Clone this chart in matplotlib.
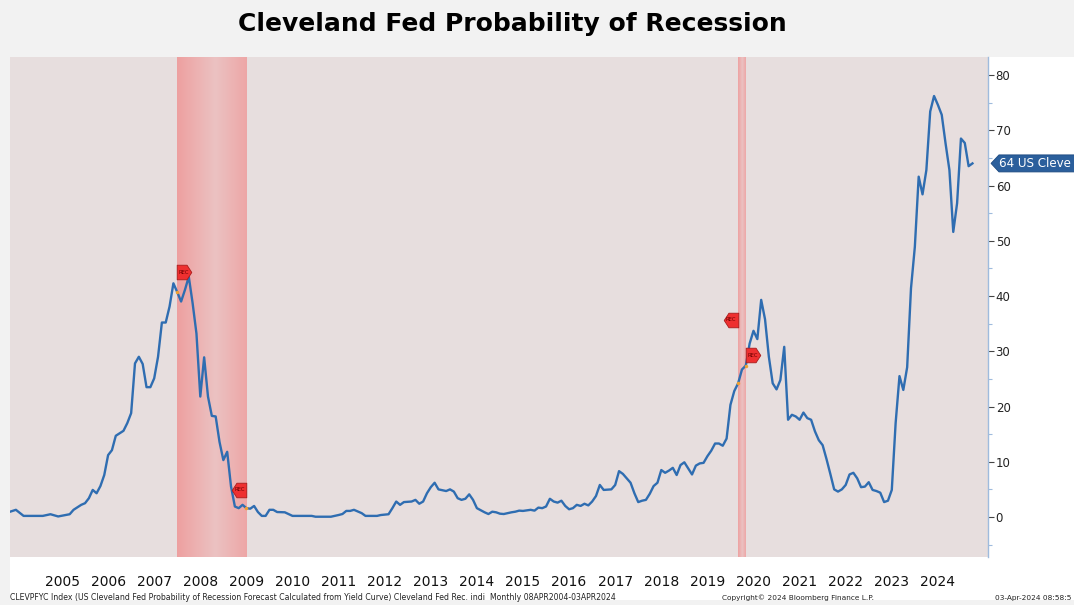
import numpy as np
import matplotlib
matplotlib.use("Agg")
import matplotlib.pyplot as plt
import matplotlib.transforms as mtransforms
from matplotlib.path import Path
from matplotlib.patches import Polygon, Rectangle

# Cleveland Fed probability of recession (%), months counted from Jan 2004
months = [4, 6, 8, 13, 15, 17, 20, 21, 23, 24,
          25, 26, 27, 28, 29, 30, 31, 32, 34, 35,
          36, 37, 38, 39, 40, 41, 42, 43, 44, 45,
          46, 47, 48, 49, 50, 51, 52, 53, 54, 55,
          56, 57, 58, 59, 60, 61, 62, 63, 64, 65,
          66, 67, 68, 69, 70, 71, 72, 73, 74, 76,
          78, 83, 84, 88, 90, 91, 92, 93, 94, 96,
          97, 100, 101, 103, 104, 105, 106, 107, 109, 110,
          111, 112, 113, 114, 115, 116, 118, 119, 120, 121,
          122, 123, 124, 125, 126, 128, 129, 130, 131, 132,
          133, 135, 136, 137, 138, 140, 141, 142, 143, 144,
          145, 146, 147, 148, 149, 150, 151, 152, 153, 154,
          155, 156, 157, 158, 159, 161, 162, 163, 164, 166,
          167, 168, 169, 170, 171, 172, 173, 174, 175, 176,
          177, 178, 179, 180, 181, 182, 183, 184, 185, 186,
          187, 188, 189, 190, 191, 192, 193, 194, 195, 196,
          197, 198, 199, 200, 201, 202, 203, 204, 205, 206,
          207, 208, 209, 210, 211, 212, 213, 214, 215, 216,
          217, 218, 219, 220, 221, 222, 223, 224, 225, 226,
          227, 228, 229, 230, 231, 232, 233, 234, 235, 236,
          237, 238, 239, 240, 241, 242, 243, 244, 245, 246,
          247, 248, 249, 250, 251, 252, 253, 254, 255]
prob = [0.85, 1.3, 0.2, 0.2, 0.5, 0.1, 0.5, 1.3, 2.2, 2.5,
        3.4, 4.9, 4.3, 5.6, 7.6, 11.2, 12.1, 14.7, 15.6, 17.0,
        18.8, 27.8, 29.0, 27.7, 23.5, 23.5, 25.1, 29.0, 35.2, 35.2,
        38.1, 42.3, 40.7, 39.0, 41.1, 43.5, 38.7, 33.2, 21.8, 28.9,
        21.8, 18.3, 18.2, 13.6, 10.3, 11.8, 5.5, 1.9, 1.6, 2.2,
        1.6, 1.5, 2.0, 0.9, 0.2, 0.2, 1.3, 1.3, 0.9, 0.85,
        0.2, 0.2, 0.05, 0.05, 0.36, 0.54, 1.1, 1.1, 1.3, 0.7,
        0.2, 0.2, 0.36, 0.5, 1.6, 2.8, 2.2, 2.7, 2.8, 3.1,
        2.4, 2.8, 4.3, 5.4, 6.2, 5.0, 4.7, 5.0, 4.6, 3.4,
        3.1, 3.3, 4.1, 3.1, 1.6, 0.85, 0.54, 0.96, 0.85, 0.6,
        0.54, 0.85, 0.96, 1.15, 1.1, 1.3, 1.15, 1.7, 1.6, 1.9,
        3.3, 2.8, 2.6, 2.95, 2.0, 1.4, 1.6, 2.2, 2.0, 2.4,
        2.1, 2.8, 3.8, 5.8, 4.9, 5.0, 5.8, 8.3, 7.8, 6.2,
        4.3, 2.7, 2.95, 3.1, 4.2, 5.6, 6.2, 8.5, 8.0, 8.4,
        8.9, 7.6, 9.4, 9.9, 8.8, 7.7, 9.3, 9.7, 9.8, 11.0,
        12.0, 13.3, 13.3, 12.9, 14.2, 20.3, 22.8, 24.2, 26.7, 27.4,
        31.4, 33.7, 32.2, 39.3, 35.8, 29.0, 24.2, 23.1, 24.8, 30.8,
        17.6, 18.5, 18.2, 17.6, 18.9, 17.9, 17.6, 15.5, 13.9, 13.0,
        10.5, 7.8, 5.0, 4.6, 5.0, 5.8, 7.7, 8.0, 7.0, 5.4,
        5.5, 6.3, 4.9, 4.7, 4.4, 2.7, 2.95, 4.9, 17.0, 25.5,
        23.0, 27.1, 41.4, 48.9, 61.6, 58.4, 62.8, 73.4, 76.2, 74.6,
        72.8, 67.6, 62.8, 51.6, 56.8, 68.5, 67.7, 63.5, 64.0]

year_labels = [str(y) for y in range(2005, 2025)]

# NBER recessions (month index of first and first-after months)
rec_start = [48, 194]
rec_end = [66, 196]

# REC flags
flag_month = [48, 66, 194, 196]
flag_value = [44.3, 4.9, 35.7, 29.3]
flag_dir = ["right", "left", "left", "right"]


def to_year(m):
    return 2004 + np.asarray(m, dtype=float) / 12.0


W, H = 1074, 605
fig = plt.figure(figsize=(W / 100, H / 100), dpi=100, facecolor="#f2f2f2")
fig.patches.append(Rectangle((10 / W, 5 / H), 1, (600 - 57) / H,
                             transform=fig.transFigure, facecolor="white",
                             edgecolor="none", zorder=-5))

ax = fig.add_axes([10 / W, 48 / H, 978 / W, 500 / H])
ax.set_facecolor("#e7dede")
xmin, xmax = 2004.372, 2025.587
ymin, ymax = -7.24, 83.26

# recession bands with a soft gradient
edge = np.array([238, 160, 160]) / 255
mid = np.array([235, 194, 194]) / 255
u = np.linspace(0, 1, 200)
w = np.clip(1 - np.abs(u - 0.55) / 0.55, 0, 1)
grad = (edge[None, :] + (mid - edge)[None, :] * w[:, None])[None, :, :]
for s, e in zip(rec_start, rec_end):
    ax.imshow(grad, extent=[to_year(s), to_year(e), ymin, ymax],
              aspect="auto", zorder=1, interpolation="bilinear")

ax.plot(to_year(months), prob, color="#2f6db1", lw=1.7, zorder=3,
        solid_joinstyle="round")

# orange points where the line meets recession boundaries
lookup = dict(zip(months, prob))
bm = rec_start + rec_end
ax.plot(to_year(bm), [lookup[m] for m in bm], "o", color="#f0a030",
        ms=2.5, mec="none", zorder=4)

# REC flags
right_flag = Path([(-1, -1), (0.35, -1), (1, 0), (0.35, 1), (-1, 1), (-1, -1)],
                  [Path.MOVETO] + [Path.LINETO] * 4 + [Path.CLOSEPOLY])
left_flag = Path([(1, -1), (-0.35, -1), (-1, 0), (-0.35, 1), (1, 1), (1, -1)],
                 [Path.MOVETO] + [Path.LINETO] * 4 + [Path.CLOSEPOLY])
for m, v, d in zip(flag_month, flag_value, flag_dir):
    dx = 0.07 if d == "right" else -0.07
    tr = ax.transData + mtransforms.ScaledTranslation(dx, 0, fig.dpi_scale_trans)
    ax.plot([to_year(m)], [v], marker=right_flag if d == "right" else left_flag,
            ms=10.5, color="#ee3030", mec="#a81c1c", mew=0.6, transform=tr,
            zorder=5, clip_on=False)
    ax.text(to_year(m), v, "REC", fontsize=3.8, color="#6b0000", ha="center",
            va="center", transform=tr, zorder=6)

ax.set_xlim(xmin, xmax)
ax.set_ylim(ymin, ymax)

ax.set_xticks([y + 0.5 for y in range(2005, 2025)])
ax.set_xticklabels(year_labels)
ax.tick_params(axis="x", length=0, pad=13, labelsize=10, labelcolor="#111111")

ax.yaxis.tick_right()
ax.set_yticks(range(0, 81, 10))
ax.set_yticks(range(-5, 85, 10), minor=True)
ax.tick_params(axis="y", which="major", length=4, width=0.8, color="#444444",
               labelsize=8.5, pad=1.5, labelcolor="#222222")
ax.tick_params(axis="y", which="minor", length=3, width=0.8, color="#9fbbdd")
for side in ["top", "left", "bottom"]:
    ax.spines[side].set_visible(False)
ax.spines["right"].set_color("#9fbbdd")
ax.spines["right"].set_linewidth(1.0)

# last value tag (cut at the image edge, as in the terminal)
last = prob[-1]
bt = mtransforms.blended_transform_factory(ax.transAxes, ax.transData)
hh = 1.54
x0, x1, x2 = 1.0031, 1.0112, 1.12
tag = Polygon([(x0, last), (x1, last + hh), (x2, last + hh), (x2, last - hh),
               (x1, last - hh)], closed=True, transform=bt, facecolor="#2b5f9c",
              edgecolor="#1d4a80", lw=0.6, clip_on=False, zorder=6)
ax.add_patch(tag)
ax.text(1.0115, last, f"{last:.0f} US Cleve", transform=bt, color="white",
        fontsize=8.6, va="center", ha="left", clip_on=False, zorder=7)

fig.text(512 / W, 1 - 24 / H, "Cleveland Fed Probability of Recession",
         ha="center", va="center", fontsize=18, fontweight="bold",
         color="#000000")

fy = 1 - 598 / H
fig.text(10 / W, fy, "CLEVPFYC Index (US Cleveland Fed Probability of Recession "
         "Forecast Calculated from Yield Curve) Cleveland Fed Rec. indi  "
         "Monthly 08APR2004-03APR2024", fontsize=5.55, va="center", color="#222222")
fig.text(722 / W, fy, "Copyright\u00a9 2024 Bloomberg Finance L.P.", fontsize=5.3,
         va="center", color="#222222")
fig.text(995 / W, fy, "03-Apr-2024 08:58:5", fontsize=5.3, va="center",
         color="#222222")

fig.savefig("out.png", dpi=100, facecolor=fig.get_facecolor())
